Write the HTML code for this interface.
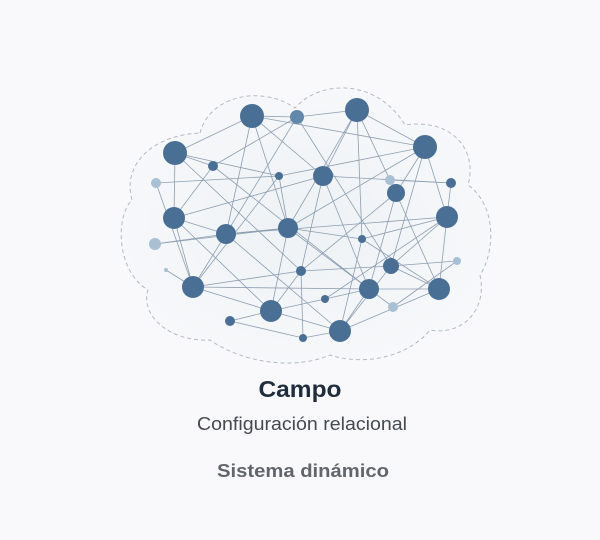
<!DOCTYPE html>
<html><head><meta charset="utf-8"><style>
html,body{margin:0;padding:0;background:#f9f9fb;width:600px;height:540px;overflow:hidden}
svg{display:block}
</style></head><body>
<svg width="600" height="540" viewBox="0 0 600 540">
<defs><radialGradient id="g" cx="50%" cy="50%" r="55%"><stop offset="0" stop-color="#eef2f5"/><stop offset="1" stop-color="#f7f8fa"/></radialGradient></defs>
<path d="M200,133 C210,95 262,85 295,108 C322,78 378,80 405,125 C452,118 478,150 468,185 C496,205 496,250 480,275 C488,312 460,336 430,330 C405,360 360,365 330,355 C290,372 238,360 210,340 C170,342 140,316 148,290 C115,270 116,215 132,200 C122,165 152,135 200,133Z" fill="url(#g)" stroke="#b5b9be" stroke-width="1" stroke-dasharray="4,3"/>
<g stroke="#7389a0" stroke-width="0.8" fill="none" opacity="0.8">
<line x1="252" y1="116" x2="297" y2="117"/><line x1="297" y1="117" x2="357" y2="110"/>
<line x1="252" y1="116" x2="175" y2="153"/><line x1="252" y1="116" x2="226" y2="234"/>
<line x1="252" y1="116" x2="323" y2="176"/><line x1="252" y1="116" x2="288" y2="228"/>
<line x1="252" y1="116" x2="425" y2="147"/><line x1="357" y1="110" x2="425" y2="147"/>
<line x1="357" y1="110" x2="323" y2="176"/><line x1="357" y1="110" x2="288" y2="228"/>
<line x1="357" y1="110" x2="396" y2="193"/><line x1="357" y1="110" x2="362" y2="239"/>
<line x1="297" y1="117" x2="391" y2="266"/><line x1="297" y1="117" x2="213" y2="166"/>
<line x1="175" y1="153" x2="174" y2="218"/><line x1="175" y1="153" x2="279" y2="176"/>
<line x1="175" y1="153" x2="301" y2="271"/><line x1="175" y1="153" x2="213" y2="166"/>
<line x1="213" y1="166" x2="174" y2="218"/><line x1="213" y1="166" x2="369" y2="289"/>
<line x1="156" y1="183" x2="279" y2="176"/><line x1="156" y1="183" x2="193" y2="287"/>
<line x1="279" y1="176" x2="288" y2="228"/><line x1="279" y1="176" x2="193" y2="287"/>
<line x1="279" y1="176" x2="425" y2="147"/><line x1="323" y1="176" x2="369" y2="289"/>
<line x1="323" y1="176" x2="301" y2="271"/><line x1="323" y1="176" x2="451" y2="183"/>
<line x1="425" y1="147" x2="447" y2="217"/><line x1="425" y1="147" x2="288" y2="228"/>
<line x1="425" y1="147" x2="396" y2="193"/><line x1="425" y1="147" x2="391" y2="266"/>
<line x1="390" y1="180" x2="451" y2="183"/><line x1="396" y1="193" x2="439" y2="289"/>
<line x1="396" y1="193" x2="369" y2="289"/><line x1="396" y1="193" x2="301" y2="271"/>
<line x1="451" y1="183" x2="447" y2="217"/><line x1="174" y1="218" x2="226" y2="234"/>
<line x1="174" y1="218" x2="193" y2="287"/><line x1="174" y1="218" x2="271" y2="311"/>
<line x1="174" y1="218" x2="323" y2="176"/><line x1="226" y1="234" x2="288" y2="228"/>
<line x1="226" y1="234" x2="340" y2="331"/><line x1="226" y1="234" x2="193" y2="287"/>
<line x1="226" y1="234" x2="447" y2="217"/><line x1="226" y1="234" x2="297" y2="117"/>
<line x1="288" y1="228" x2="369" y2="289"/><line x1="288" y1="228" x2="271" y2="311"/>
<line x1="288" y1="228" x2="362" y2="239"/><line x1="362" y1="239" x2="447" y2="217"/>
<line x1="362" y1="239" x2="340" y2="331"/><line x1="362" y1="239" x2="439" y2="289"/>
<line x1="447" y1="217" x2="391" y2="266"/><line x1="447" y1="217" x2="439" y2="289"/>
<line x1="447" y1="217" x2="325" y2="299"/><line x1="155" y1="244" x2="226" y2="234"/>
<line x1="301" y1="271" x2="193" y2="287"/><line x1="301" y1="271" x2="391" y2="266"/>
<line x1="301" y1="271" x2="303" y2="338"/><line x1="301" y1="271" x2="271" y2="311"/>
<line x1="391" y1="266" x2="439" y2="289"/><line x1="391" y1="266" x2="340" y2="331"/>
<line x1="391" y1="266" x2="457" y2="261"/><line x1="193" y1="287" x2="369" y2="289"/>
<line x1="193" y1="287" x2="271" y2="311"/><line x1="369" y1="289" x2="439" y2="289"/>
<line x1="369" y1="289" x2="325" y2="299"/><line x1="369" y1="289" x2="340" y2="331"/>
<line x1="325" y1="299" x2="271" y2="311"/><line x1="271" y1="311" x2="230" y2="321"/>
<line x1="271" y1="311" x2="340" y2="331"/><line x1="230" y1="321" x2="303" y2="338"/>
<line x1="303" y1="338" x2="340" y2="331"/><line x1="340" y1="331" x2="439" y2="289"/>
<line x1="393" y1="307" x2="369" y2="289"/><line x1="393" y1="307" x2="457" y2="261"/>
<line x1="166" y1="270" x2="193" y2="287"/><line x1="155" y1="244" x2="288" y2="228"/>
</g>
<g fill="#4a6f95">
<circle cx="252" cy="116" r="12"/><circle cx="297" cy="117" r="7" fill="#6088ab"/><circle cx="357" cy="110" r="12"/>
<circle cx="175" cy="153" r="12"/><circle cx="213" cy="166" r="5"/><circle cx="279" cy="176" r="4"/>
<circle cx="323" cy="176" r="10"/><circle cx="425" cy="147" r="12"/><circle cx="396" cy="193" r="9"/>
<circle cx="451" cy="183" r="5"/><circle cx="174" cy="218" r="11"/><circle cx="226" cy="234" r="10"/>
<circle cx="288" cy="228" r="10"/><circle cx="362" cy="239" r="4"/><circle cx="447" cy="217" r="11"/>
<circle cx="301" cy="271" r="5"/><circle cx="391" cy="266" r="8"/><circle cx="193" cy="287" r="11"/>
<circle cx="369" cy="289" r="10"/><circle cx="325" cy="299" r="4"/><circle cx="439" cy="289" r="11"/>
<circle cx="271" cy="311" r="11"/><circle cx="230" cy="321" r="5"/><circle cx="340" cy="331" r="11"/>
<circle cx="303" cy="338" r="4"/>
</g>
<g fill="#a9bfd3">
<circle cx="156" cy="183" r="5"/><circle cx="390" cy="180" r="5"/><circle cx="155" cy="244" r="6"/>
<circle cx="166" cy="270" r="2"/><circle cx="457" cy="261" r="4"/><circle cx="393" cy="307" r="5"/>
</g>
<g font-family="'Liberation Sans',sans-serif" text-anchor="middle">
<text x="300" y="397" font-size="23" font-weight="bold" fill="#1f2d3d" textLength="83" lengthAdjust="spacingAndGlyphs">Campo</text>
<text x="302" y="430" font-size="18.5" fill="#444a50" textLength="210" lengthAdjust="spacingAndGlyphs">Configuración relacional</text>
<text x="303" y="477" font-size="18" font-weight="bold" fill="#62666b" textLength="172" lengthAdjust="spacingAndGlyphs">Sistema dinámico</text>
</g>
</svg>
</body></html>
